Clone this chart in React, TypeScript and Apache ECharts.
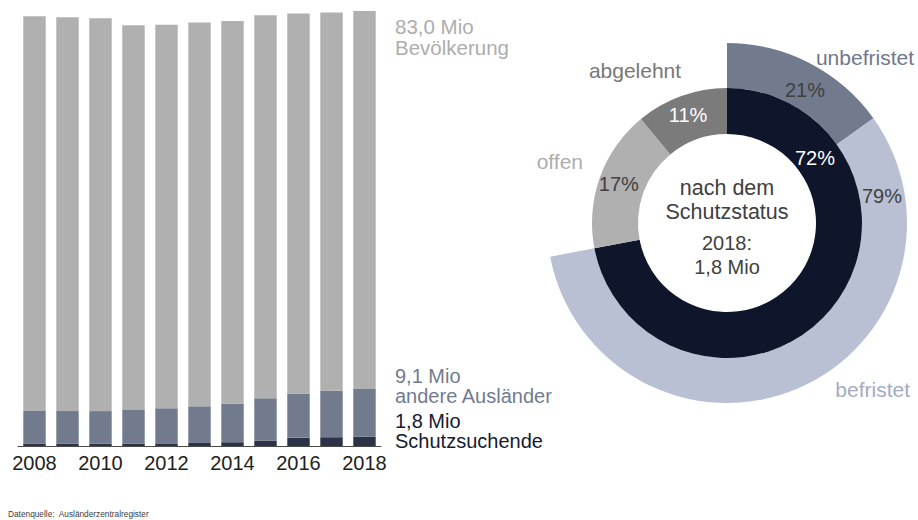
import React, { useEffect, useRef } from "react";
import * as echarts from "echarts";

const years = ["2008", "2009", "2010", "2011", "2012", "2013", "2014", "2015", "2016", "2017", "2018"];
// Mio
const bevoelkerung = [82.0, 81.8, 81.6, 80.3, 80.4, 80.8, 81.1, 82.2, 82.5, 82.7, 83.0];
const andereAuslaender = [6.2, 6.2, 6.2, 6.4, 6.7, 7.0, 7.35, 8.05, 8.4, 8.85, 9.1];
const schutzsuchende = [0.48, 0.47, 0.46, 0.47, 0.5, 0.58, 0.72, 1.04, 1.6, 1.68, 1.78];

// Schutzstatus 2018 (percent)
const statusNames = ["anerkannt", "offen", "abgelehnt"];
const statusValues = [72, 17, 11];
const anerkanntNames = ["unbefristet", "befristet"];
const anerkanntValues = [21, 79];

const FONT = "'Liberation Sans', Arial, Helvetica, sans-serif";
const C_GRAY = "#b0b0b0";
const C_SLATE = "#727b8e";
const C_DARK_BAR = "#2c3349";
const C_DARK = "#0f162b";
const C_LIGHTBLUE = "#b9c0d3";
const C_MIDGRAY = "#7b7b7b";
const C_TEXT = "#404040";

const fmt = (v: number) => v.toFixed(1).replace(".", ",") + " Mio";

export default function App() {
  const ref = useRef<HTMLDivElement>(null);
  useEffect(() => {
    if (!ref.current) return;
    const chart = echarts.init(ref.current, undefined, { renderer: "svg" });
    const last = years.length - 1;
    const rest = bevoelkerung.map((b, i) => +(b - andereAuslaender[i] - schutzsuchende[i]).toFixed(2));
    const cx = 727;
    const cy = 223;

    const txt = (
      text: string,
      x: number,
      y: number,
      fill: string,
      size: number,
      align = "left",
      lineHeight?: number
    ) => ({
      type: "text",
      x,
      y,
      z: 100,
      silent: true,
      style: {
        text,
        fill,
        fontSize: size,
        fontFamily: FONT,
        lineHeight: lineHeight ?? Math.round(size * 1.2),
        textAlign: align,
        textVerticalAlign: "middle",
        align,
        verticalAlign: "middle",
      },
    });

    const anerkanntShare = statusValues[0];
    const outerData = [
      ...anerkanntNames.map((n, i) => ({
        name: n,
        value: (anerkanntValues[i] * anerkanntShare) / 100,
        itemStyle: { color: i === 0 ? C_SLATE : C_LIGHTBLUE },
      })),
      {
        name: "rest",
        value: 100 - anerkanntShare,
        itemStyle: { color: "rgba(0,0,0,0)" },
        emphasis: { disabled: true },
      },
    ];

    const innerColors = [C_DARK, C_GRAY, C_MIDGRAY];
    const innerLabelColors = ["#ffffff", C_TEXT, "#ffffff"];

    chart.setOption({
      animation: false,
      grid: { left: 18, right: 537, top: 11, bottom: 74, containLabel: false },
      xAxis: {
        type: "category",
        data: years,
        axisLine: { show: true, lineStyle: { color: "#4a4a4a", width: 1 } },
        axisTick: { show: false },
        axisLabel: {
          interval: 1,
          color: "#222222",
          fontSize: 20,
          fontFamily: FONT,
          margin: 7,
        },
      },
      yAxis: {
        type: "value",
        min: 0,
        max: 83,
        show: false,
        splitLine: { show: false },
      },
      series: [
        {
          type: "bar",
          stack: "pop",
          data: schutzsuchende,
          barWidth: "68%",
          itemStyle: { color: C_DARK_BAR },
          silent: true,
        },
        {
          type: "bar",
          stack: "pop",
          data: andereAuslaender,
          barWidth: "68%",
          itemStyle: { color: C_SLATE },
          silent: true,
        },
        {
          type: "bar",
          stack: "pop",
          data: rest,
          barWidth: "68%",
          itemStyle: { color: C_GRAY },
          silent: true,
        },
        {
          type: "pie",
          center: [cx, cy],
          radius: [135, 180],
          startAngle: 90,
          clockwise: true,
          silent: true,
          label: { show: false },
          labelLine: { show: false },
          data: outerData,
        },
        {
          type: "pie",
          center: [cx, cy],
          radius: [89, 135],
          startAngle: 90,
          clockwise: true,
          silent: true,
          labelLine: { show: false },
          data: statusNames.map((n, i) => ({
            name: n,
            value: statusValues[i],
            itemStyle: { color: innerColors[i] },
            label: {
              show: i > 0,
              position: "inside",
              formatter: `${statusValues[i]}%`,
              color: innerLabelColors[i],
              fontSize: 20,
              fontFamily: FONT,
            },
          })),
        },
      ],
      graphic: [
        // bar chart side labels
        txt(`${fmt(bevoelkerung[last])}\nBevölkerung`, 395, 37, "#adadad", 20.5, "left", 21),
        txt(`${fmt(andereAuslaender[last])}\nandere Ausländer`, 395, 386, C_SLATE, 20, "left", 20),
        txt(`${fmt(schutzsuchende[last])}\nSchutzsuchende`, 395, 431, "#151b30", 20, "left", 20),
        // donut labels
        txt(`${statusValues[0]}%`, 815, 158, "#ffffff", 20, "center"),
        txt(`${anerkanntValues[0]}%`, 805, 90, C_TEXT, 20, "center"),
        txt(`${anerkanntValues[1]}%`, 882, 196, C_TEXT, 20, "center"),
        txt(anerkanntNames[0], 914, 57, "#6f788c", 21, "right"),
        txt(anerkanntNames[1], 910, 389, "#a3abc3", 21, "right"),
        txt(statusNames[1], 583, 161, "#adadad", 21, "right"),
        txt(statusNames[2], 635, 70, "#777777", 21, "center"),
        // center
        txt("nach dem\nSchutzstatus", cx, 200, C_TEXT, 21.5, "center", 24),
        txt(`${years[last]}:\n${fmt(schutzsuchende[last])}`, cx, 255, C_TEXT, 20, "center", 24),
        // source
        txt("Datenquelle:  Ausländerzentralregister", 8, 514, "#404040", 8.3),
      ],
    });
    return () => chart.dispose();
  }, []);
  return (
    <div
      ref={ref}
      style={{ position: "fixed", left: 0, top: 0, width: 918, height: 520, background: "#ffffff" }}
    />
  );
}
